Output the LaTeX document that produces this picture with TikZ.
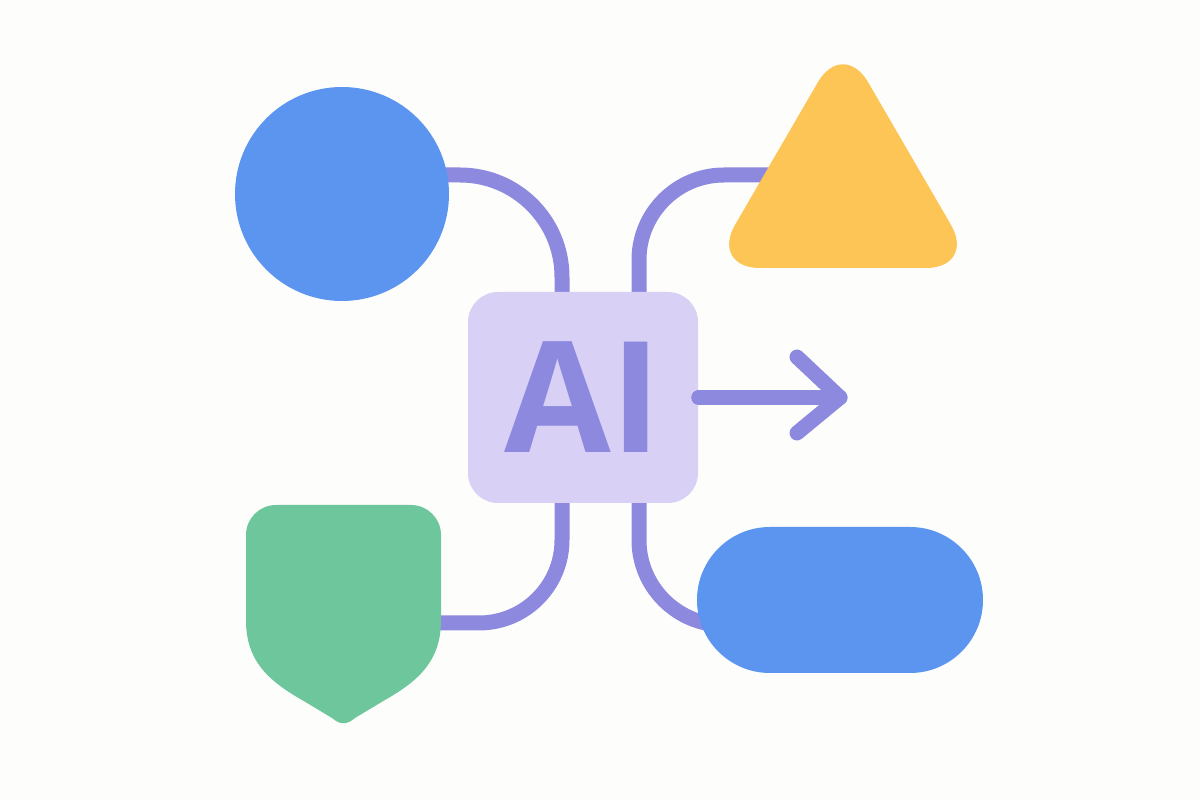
\documentclass[tikz,border=0pt]{standalone}
\usepackage{fontspec}
\setsansfont{Open Sans}
\usetikzlibrary{shapes.misc}
\definecolor{bgpaper}{HTML}{FDFDFB}
\definecolor{skyblue}{HTML}{5B95F0}
\definecolor{sunny}{HTML}{FCC555}
\definecolor{mint}{HTML}{6EC79C}
\definecolor{lavender}{HTML}{D8D1F5}
\definecolor{lilac}{HTML}{8D89DF}
\begin{document}
\begin{tikzpicture}[line cap=round,line join=round,
		link/.style={draw=lilac,line width=0.15cm},
		shapefill/.style={fill=#1,draw=none,inner sep=0pt}]
			\fill[bgpaper] (0,0) rectangle (12,-8);
			\useasboundingbox (0,0) rectangle (12,-8);
			% connectors
			\coordinate (L1) at (4.4,-1.75);
			\coordinate (L2) at (8.0,-1.75);
			\coordinate (L3) at (4.2,-6.23);
			\draw[link] (L1) -- (4.6,-1.75) arc[start angle=90,end angle=0,radius=1.02] -- (5.62,-3.1);
			\draw[link] (6.39,-3.1) -- (6.39,-2.6) arc[start angle=180,end angle=90,radius=0.85] -- (L2);
			\draw[link] (5.62,-4.9) -- (5.62,-5.4) arc[start angle=0,end angle=-90,radius=0.83] -- (L3);
			\draw[link] (6.39,-4.9) -- (6.39,-5.4) arc[start angle=180,end angle=270,radius=0.85];
			% shapes
			\path
			(3.42,-1.94) node[shapefill=skyblue,circle,minimum size=2.14cm] (circ) {}
			(8.4,-6.0) node[shapefill=skyblue,rounded rectangle,minimum width=2.86cm,minimum height=1.46cm] (pill) {}
			(5.83,-3.975) node[shapefill=lavender,rounded corners=0.3cm,minimum width=2.3cm,minimum height=2.11cm,
				text=lilac,font=\sffamily\bfseries\fontsize{44}{44}\selectfont] (ai) {AI}
			;
			\fill[sunny,rounded corners=0.5cm] (7.10,-2.68) -- (8.43,-0.39) -- (9.76,-2.68) -- cycle;
			\fill[mint] (2.46,-6.2) -- (2.46,-5.35) arc[start angle=180,end angle=90,radius=0.3]
				-- (4.11,-5.05) arc[start angle=90,end angle=0,radius=0.3]
				-- (4.41,-6.2) .. controls (4.41,-6.6) and (4.2,-6.8) .. (3.85,-7.0)
				-- (3.55,-7.18) .. controls (3.47,-7.25) and (3.40,-7.25) .. (3.32,-7.18)
				-- (3.02,-7.0) .. controls (2.67,-6.8) and (2.46,-6.6) .. (2.46,-6.2) -- cycle;
			% arrow
			\coordinate (tip) at (8.4,-3.975);
			\draw[link] (ai.east) -- (tip);
			\draw[link] (7.97,-3.57) -- (tip) -- (7.97,-4.33);
\end{tikzpicture}
\end{document}
